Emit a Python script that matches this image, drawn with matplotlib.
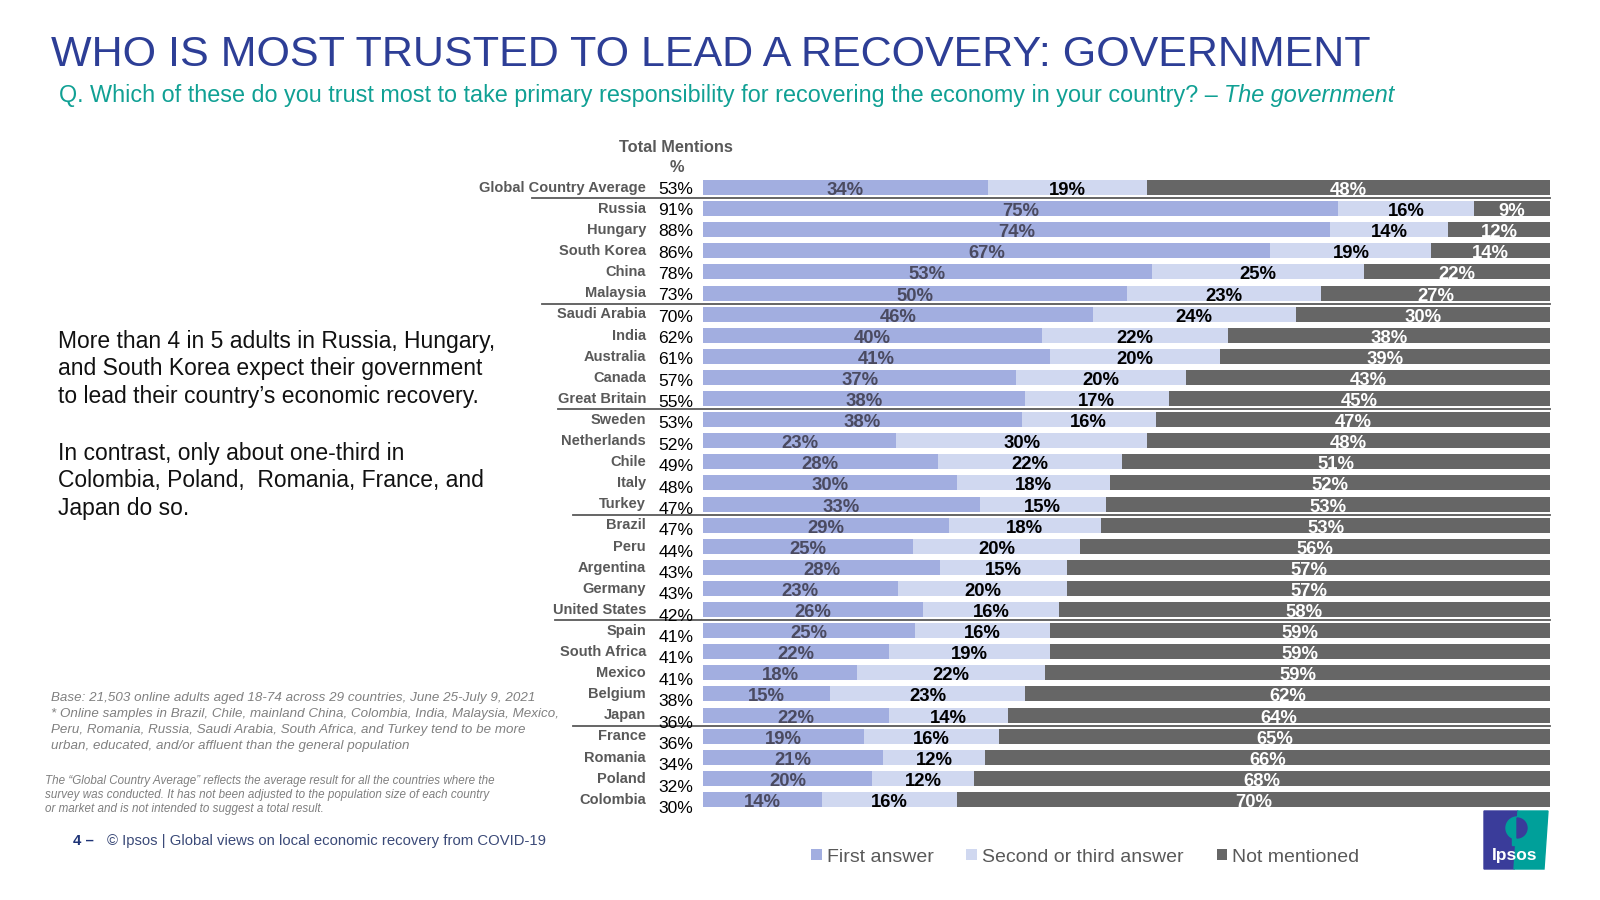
import matplotlib
matplotlib.use('Agg')
import matplotlib.pyplot as plt
import numpy as np
from matplotlib.transforms import blended_transform_factory, ScaledTranslation, IdentityTransform
from matplotlib.patches import Rectangle, Polygon, Wedge

plt.rcParams['font.family'] = ['Liberation Sans', 'DejaVu Sans']

# ---------------- data ----------------
countries = ['Global Country Average', 'Russia', 'Hungary', 'South Korea', 'China', 'Malaysia',
             'Saudi Arabia', 'India', 'Australia', 'Canada', 'Great Britain', 'Sweden',
             'Netherlands', 'Chile', 'Italy', 'Turkey', 'Brazil', 'Peru', 'Argentina',
             'Germany', 'United States', 'Spain', 'South Africa', 'Mexico', 'Belgium',
             'Japan', 'France', 'Romania', 'Poland', 'Colombia']
total_mentions = [53, 91, 88, 86, 78, 73, 70, 62, 61, 57, 55, 53, 52, 49, 48, 47, 47, 44, 43,
                  43, 42, 41, 41, 41, 38, 36, 36, 34, 32, 30]
first_answer = [34, 75, 74, 67, 53, 50, 46, 40, 41, 37, 38, 38, 23, 28, 30, 33, 29, 25, 28,
                23, 26, 25, 22, 18, 15, 22, 19, 21, 20, 14]
second_third = [19, 16, 14, 19, 25, 23, 24, 22, 20, 20, 17, 16, 30, 22, 18, 15, 18, 20, 15,
                20, 16, 16, 19, 22, 23, 14, 16, 12, 12, 16]
not_mentioned = [48, 9, 12, 14, 22, 27, 30, 38, 39, 43, 45, 47, 48, 51, 52, 53, 53, 56, 57,
                 57, 58, 59, 59, 59, 62, 64, 65, 66, 68, 70]
series_names = ['First answer', 'Second or third answer', 'Not mentioned']
group_breaks_after = ['Global Country Average', 'Malaysia', 'Great Britain', 'Turkey',
                      'United States', 'Japan']

# ---------------- layout helpers ----------------
W, H = 1600, 900
fig = plt.figure(figsize=(16, 9), dpi=100)
fig.patch.set_facecolor('white')


def fx(x):
    return x / W


def fy(y):
    return 1 - y / H


n = len(countries)
row0, rowN = 187.5, 799.5
step = (rowN - row0) / (n - 1)
bar_left_px, bar_right_px = 703, 1550
ax = fig.add_axes([fx(bar_left_px), fy(rowN + step / 2),
                   fx(bar_right_px) - fx(bar_left_px), (rowN - row0 + step) / H])
ax.set_xlim(0, 100)
ax.set_ylim(n - 0.5, -0.5)
ax.axis('off')

data = np.array([first_answer, second_third, not_mentioned], dtype=float)
shares = data / data.sum(axis=0) * 100
ypos = np.arange(n)
bar_colors = ['#A2AEE0', '#D0D8F0', '#666666']
label_colors = ['#4A4A60', '#000000', '#FFFFFF']

down = lambda px: ScaledTranslation(0, -px / 100.0, fig.dpi_scale_trans)

handles = []
left = np.zeros(n)
for k in range(3):
    bc = ax.barh(ypos, shares[k], left=left, height=0.71, color=bar_colors[k],
                 label=series_names[k], linewidth=0)
    handles.append(bc)
    for i in range(n):
        ax.text(left[i] + shares[k][i] / 2, ypos[i], f'{data[k][i]:.0f}%',
                ha='center', va='baseline', fontsize=13.3, fontweight='bold',
                color=label_colors[k], transform=ax.transData + down(7.5))
    left = left + shares[k]

blend = blended_transform_factory(fig.transFigure, ax.transData)

# country names and total mentions
for i in range(n):
    ax.text(fx(646), ypos[i], countries[i], ha='right', va='baseline', fontsize=10.5,
            fontweight='bold', color='#595959', transform=blend + down(4.3))
    ax.text(fx(676), ypos[i], f'{total_mentions[i]}%', ha='center', va='baseline',
            fontsize=12.6, color='#000000', transform=blend + down(6 + 7.5 * i / (n - 1)))

fig.text(fx(676), fy(152), 'Total Mentions', ha='center', va='baseline', fontsize=11.8,
         fontweight='bold', color='#595959')
fig.text(fx(677), fy(172), '%', ha='center', va='baseline', fontsize=11.8,
         fontweight='bold', color='#595959')

# group separator lines
sep_starts = [532, 542, 558, 573, 555, 573]
for name, xs in zip(group_breaks_after, sep_starts):
    yb = countries.index(name) + 0.5
    ax.plot([fx(xs), fx(bar_right_px)], [yb, yb], transform=blend, color='#595959',
            lw=1.3, clip_on=False)

# ---------------- titles ----------------
fig.text(fx(51), fy(65.5), 'WHO IS MOST TRUSTED TO LEAD A RECOVERY: GOVERNMENT',
         fontsize=31.0, color='#2D3E96', va='baseline', ha='left')
teal = '#10A094'
sub1 = fig.text(fx(59), fy(102),
                'Q. Which of these do you trust most to take primary responsibility for '
                'recovering the economy in your country? \u2013',
                fontsize=16.8, color=teal, va='baseline', ha='left')
renderer = fig.canvas.get_renderer()
bb = sub1.get_window_extent(renderer)
fig.text((bb.x1 + 6) / W, fy(102), 'The government', fontsize=16.8, color=teal,
         style='italic', va='baseline', ha='left')

# ---------------- commentary ----------------
para1 = ['More than 4 in 5 adults in Russia, Hungary,',
         'and South Korea expect their government',
         'to lead their country\u2019s economic recovery.']
para2 = ['In contrast, only about one-third in',
         'Colombia, Poland,  Romania, France, and',
         'Japan do so.']
for txt, yb in zip(para1, [348, 375.5, 403]):
    fig.text(fx(58), fy(yb), txt, fontsize=16.5, color='#111111', va='baseline')
for txt, yb in zip(para2, [460, 487.5, 515]):
    fig.text(fx(58), fy(yb), txt, fontsize=16.5, color='#111111', va='baseline')

base_note = ['Base: 21,503 online adults aged 18-74 across 29 countries, June 25-July 9, 2021',
             '* Online samples in Brazil, Chile, mainland China, Colombia, India, Malaysia, Mexico,',
             'Peru, Romania, Russia, Saudi Arabia, South Africa, and Turkey tend to be more',
             'urban, educated, and/or affluent than the general population']
for txt, yb in zip(base_note, [701, 717, 733, 749]):
    fig.text(fx(51), fy(yb), txt, fontsize=9.6, style='italic', color='#808080', va='baseline')

gca_note = ['The \u201cGlobal Country Average\u201d reflects the average result for all the countries where the',
            'survey was conducted. It has not been adjusted to the population size of each country',
            'or market and is not intended to suggest a total result.']
for txt, yb in zip(gca_note, [784, 798, 812]):
    fig.text(fx(45), fy(yb), txt, fontsize=8.4, style='italic', color='#7F7F7F', va='baseline')

# footer
fig.text(fx(73), fy(845), '4 \u2013', fontsize=10.7, fontweight='bold', color='#1F3477',
         va='baseline')
fig.text(fx(107), fy(845), '\u00a9 Ipsos | Global views on local economic recovery from COVID-19',
         fontsize=10.7, color='#3B4A78', va='baseline')

# legend
fig.legend(handles=handles, labels=series_names, loc='center left',
           bbox_to_anchor=(fx(811), fy(857)), ncol=3, frameon=False, fontsize=14,
           handlelength=0.55, handleheight=0.55, handletextpad=0.25, columnspacing=1.7,
           borderpad=0, borderaxespad=0, labelcolor='#595959')

# ---------------- Ipsos logo ----------------
ID = IdentityTransform()
P = lambda x, y: (x, H - y)
logo_blue = '#3A3C9A'
logo_teal = '#00A09A'
fig.add_artist(Polygon([P(1484, 811), P(1518, 811), P(1514, 869), P(1484, 869)],
                       closed=True, color=logo_blue, transform=ID))
fig.add_artist(Polygon([P(1518, 811), P(1548, 811), P(1546, 840), P(1544, 869), P(1514, 869)],
                       closed=True, color=logo_teal, transform=ID))
fig.add_artist(Wedge(P(1517, 828), 11, 90, 270, color=logo_teal, transform=ID))
fig.add_artist(Rectangle(P(1512, 845), 5, 8, color=logo_teal, transform=ID))
fig.add_artist(Wedge(P(1517, 828), 10, 270, 90, color=logo_blue, transform=ID))
fig.text(fx(1515), fy(860), 'Ipsos', fontsize=12.5, fontweight='bold', color='white',
         ha='center', va='baseline')

fig.savefig('out.png', dpi=100, facecolor='white')
